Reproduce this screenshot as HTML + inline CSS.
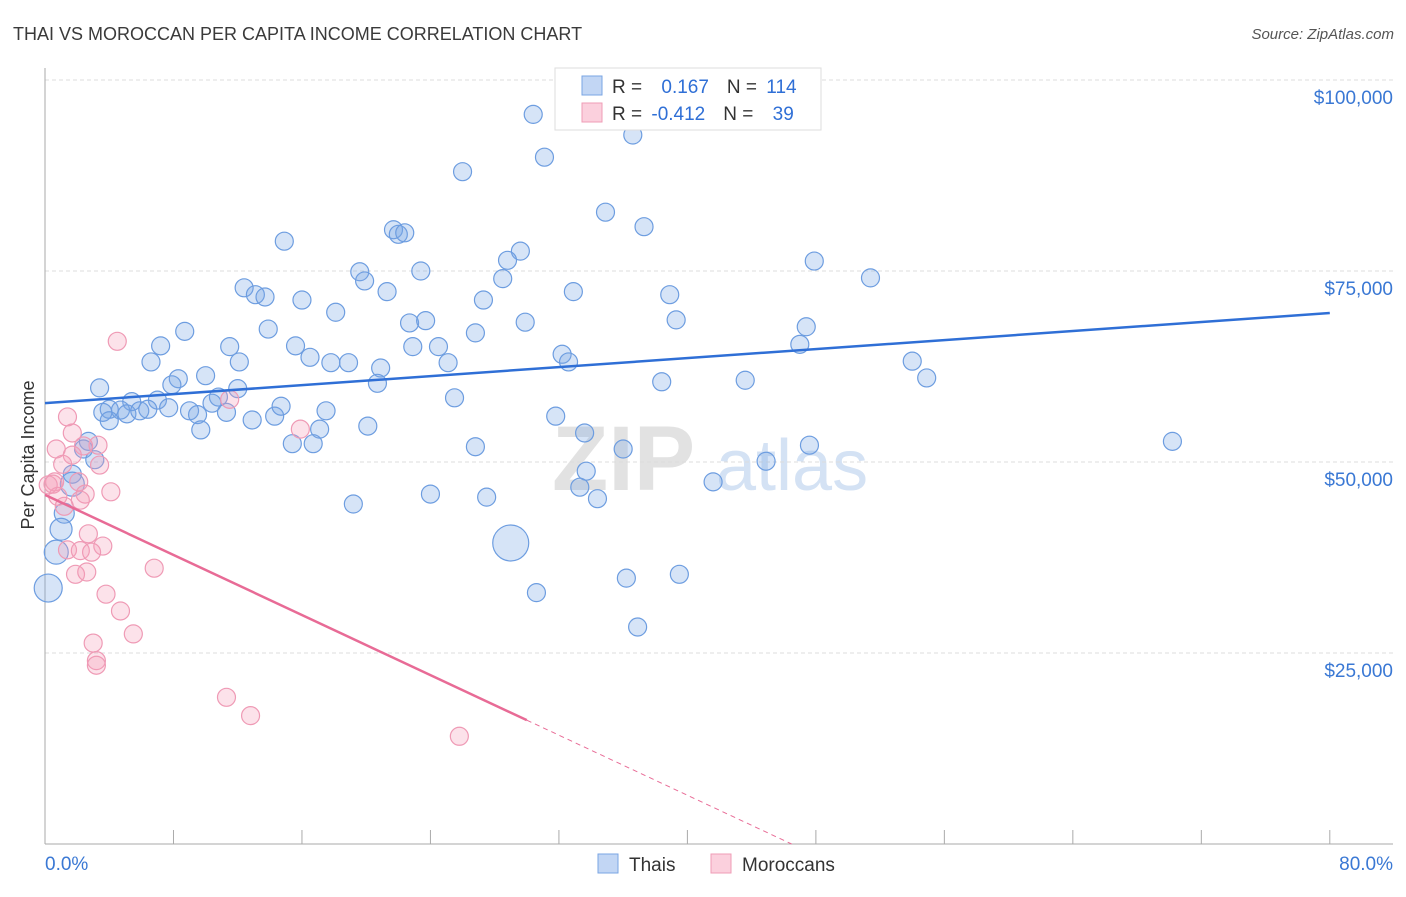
<!DOCTYPE html>
<html><head><meta charset="utf-8"><style>
body{margin:0;background:#fff;font-family:"Liberation Sans",sans-serif;}
svg text{font-family:"Liberation Sans",sans-serif;}
</style></head><body>
<svg id="chart" width="1406" height="892" viewBox="0 0 1406 892" xmlns="http://www.w3.org/2000/svg">
<text x="13" y="40" font-size="18" fill="#3a3a3a">THAI VS MOROCCAN PER CAPITA INCOME CORRELATION CHART</text>
<text x="1394" y="39" font-size="15" fill="#555" text-anchor="end" font-style="italic">Source: ZipAtlas.com</text>
<g>
<text x="552" y="490" font-size="92" fill="#e2e2e2" font-family="Liberation Serif,serif" font-weight="bold">ZIP</text>
<text x="716" y="490" font-size="72" fill="#d4e2f4">atlas</text>
</g>
<g id="grid"></g>
<g id="axes"></g>
<g id="marks"></g>
<g>
<rect x="555" y="68" width="266" height="62" fill="#fff" stroke="#ddd"/>
<rect x="582" y="76" width="20" height="19" fill="#c2d6f4" stroke="#7aa5e3"/>
<rect x="582" y="103" width="20" height="19" fill="#fbd0dd" stroke="#ef9cb6"/>
<text x="612" y="93" font-size="19" fill="#333">R = <tspan fill="#2f6fd6" dx="14">0.167</tspan><tspan fill="#333" dx="18">N = </tspan><tspan fill="#2f6fd6" dx="4">114</tspan></text>
<text x="612" y="120" font-size="19" fill="#333">R = <tspan fill="#2f6fd6" dx="4">-0.412</tspan><tspan fill="#333" dx="18">N = </tspan><tspan fill="#2f6fd6" dx="14">39</tspan></text>
</g>
<g>
<rect x="598" y="854" width="20" height="19" fill="#c2d6f4" stroke="#7aa5e3"/>
<text x="629" y="871" font-size="19" fill="#333">Thais</text>
<rect x="711" y="854" width="20" height="19" fill="#fbd0dd" stroke="#ef9cb6"/>
<text x="742" y="871" font-size="19" fill="#333">Moroccans</text>
</g>
<text transform="translate(34,455) rotate(-90)" font-size="18" fill="#333" text-anchor="middle">Per Capita Income</text>
</svg>
<script>
const thaiX=[30.4,31.1,36.6,26.0,34.9,37.3,14.9,21.7,22.0,22.4,29.6,28.8,23.4,19.6,19.9,28.5,47.9,51.4,12.4,13.1,13.7,16.0,21.3,27.3,32.9,38.9,18.1,8.7,13.9,22.7,23.7,26.8,29.9,39.3,47.4,7.2,11.5,15.6,22.9,24.5,47.0,6.6,12.1,16.5,17.8,18.9,20.9,25.1,32.2,32.6,54.0,8.3,10.0,20.7,38.4,43.6,54.9,3.4,7.9,12.0,10.8,25.5,5.4,7.0,4.0,3.6,4.7,5.1,5.9,6.4,7.7,9.0,9.5,10.4,11.3,12.9,14.3,14.7,17.5,4.0,9.7,17.1,15.4,16.7,20.1,31.8,33.6,36.0,26.8,47.6,70.2,2.7,2.4,3.1,44.9,33.7,33.3,34.4,41.6,24.0,27.5,19.2,1.7,1.7,1.2,1.0,0.7,0.2,29.0,30.6,36.2,39.5,36.9];
const thaiY=[95.5,89.9,92.8,88.0,82.7,80.8,78.9,80.4,79.8,80.0,77.6,76.4,75.0,74.9,73.7,74.0,76.3,74.1,72.8,71.9,71.6,71.2,72.3,71.2,72.3,71.9,69.6,67.1,67.4,68.2,68.5,66.9,68.3,68.6,67.7,65.2,65.1,65.2,65.1,65.1,65.4,63.1,63.1,63.7,63.0,63.0,62.3,63.0,64.1,63.1,63.2,60.9,61.3,60.3,60.5,60.7,61.0,59.7,60.1,59.6,58.5,58.4,57.9,58.1,56.9,56.5,56.8,56.3,56.7,56.9,57.1,56.7,56.2,57.7,56.5,55.5,56.0,57.3,56.7,55.4,54.2,54.3,52.4,52.4,54.7,56.0,53.8,51.7,52.0,52.2,52.7,52.7,51.7,50.3,50.1,48.8,46.7,45.2,47.4,45.8,45.4,44.5,48.4,47.1,43.3,41.2,38.2,33.5,39.4,32.9,34.8,35.3,28.4];
const thaiBig=[[103,12],[104,10],[105,11],[106,12],[107,14],[108,18]];
const morX=[4.5,1.4,1.7,3.3,0.7,2.4,1.7,1.1,3.4,0.6,0.2,2.1,0.8,2.5,2.2,4.1,1.2,0.5,2.7,3.6,1.4,2.2,2.9,1.9,2.6,6.8,3.8,4.7,5.5,3.0,3.2,3.2,11.3,12.8,25.8,15.9,11.5];
const morY=[65.8,55.9,53.8,52.2,51.7,52.1,50.9,49.7,49.6,47.4,47.0,47.4,45.5,45.8,45.0,46.1,44.2,47.1,40.6,39.0,38.5,38.4,38.2,35.3,35.6,36.1,32.7,30.5,27.5,26.3,24.0,23.4,19.2,16.8,14.1,54.3,58.2];
const yTicks=[25000,50000,75000,100000];
const yTickLabels=["$25,000","$50,000","$75,000","$100,000"];
const xTickLabels=["0.0%","80.0%"];
const thaiTrend=[57.7,69.5];
const morTrend=[45.7,-0.983];

const NS="http://www.w3.org/2000/svg";
const X=v=>45+v*16.06;
const Y=k=>844-k*7.64;
function mk(tag,attrs,parent){const e=document.createElementNS(NS,tag);for(const k in attrs)e.setAttribute(k,attrs[k]);document.getElementById(parent).appendChild(e);return e;}
yTicks.forEach((t,i)=>{
  const g=mk('line',{x1:45,x2:1393,y1:Y(t/1000),y2:Y(t/1000),stroke:'#dcdcdc','stroke-dasharray':'4,3'},'grid');
  
  
  const l=mk('text',{x:1393,y:Y(t/1000)+24,'font-size':19,fill:'#3a78d4','text-anchor':'end'},'axes');
  l.textContent=yTickLabels[i];
  
  
});
let ax=mk('line',{x1:45,x2:45,y1:68,y2:844,stroke:'#aaa'},'axes');


ax=mk('line',{x1:45,x2:1393,y1:844,y2:844,stroke:'#aaa'},'axes');


for(let i=1;i<=10;i++){
  const t=mk('line',{x1:X(i*8),x2:X(i*8),y1:830,y2:844,stroke:'#aaa'},'axes');
  
  
}
let xl=mk('text',{x:45,y:870,'font-size':19,fill:'#3a78d4'},'axes');xl.textContent=xTickLabels[0];


xl=mk('text',{x:1393,y:870,'font-size':19,fill:'#3a78d4','text-anchor':'end'},'axes');xl.textContent=xTickLabels[1];


const bigMap={};thaiBig.forEach(b=>bigMap[b[0]]=b[1]);
thaiX.forEach((x,i)=>{
  const c=mk('circle',{cx:X(x),cy:Y(thaiY[i]),r:bigMap[i]||9,fill:'rgba(120,165,230,0.3)',stroke:'#6d9de0','stroke-width':1.2},'marks');
  
  
});
morX.forEach((x,i)=>{
  const c=mk('circle',{cx:X(x),cy:Y(morY[i]),r:9,fill:'rgba(245,160,185,0.3)',stroke:'#ef9ab5','stroke-width':1.2},'marks');
  
  
});
let tl=mk('line',{x1:X(0),y1:Y(thaiTrend[0]),x2:X(80),y2:Y(thaiTrend[1]),stroke:'#2f6fd6','stroke-width':2.5},'marks');


const xz=-morTrend[0]/morTrend[1];
tl=mk('line',{x1:X(0),y1:Y(morTrend[0]),x2:X(30),y2:Y(morTrend[0]+morTrend[1]*30),stroke:'#e86b96','stroke-width':2.5},'marks');


tl=mk('line',{x1:X(30),y1:Y(morTrend[0]+morTrend[1]*30),x2:X(xz),y2:Y(0),stroke:'#e86b96','stroke-width':1,'stroke-dasharray':'5,4'},'marks');


</script>
</body></html>
